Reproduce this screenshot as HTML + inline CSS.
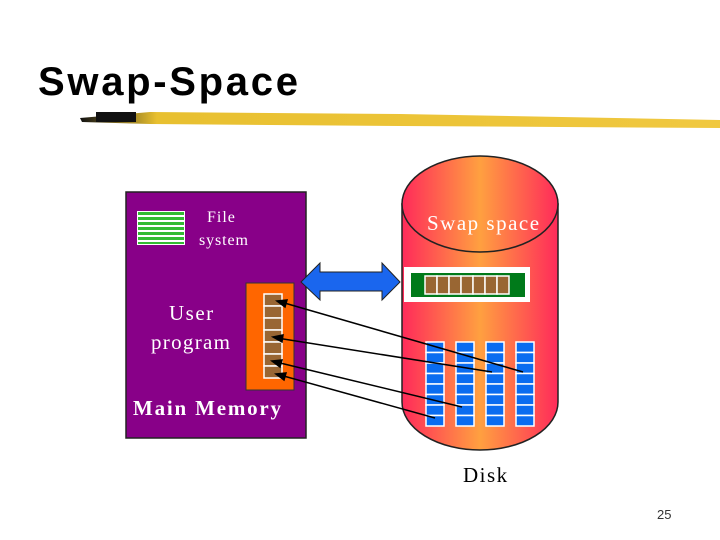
<!DOCTYPE html>
<html><head><meta charset="utf-8"><style>
body{margin:0;width:720px;height:540px;background:#fff;overflow:hidden;position:relative;font-family:"Liberation Serif",serif}
.t{position:absolute;white-space:nowrap}
</style></head><body>
<div class="t" style="left:38px;top:60px;font:bold 40px 'Liberation Sans',sans-serif;letter-spacing:2.7px;color:#000">Swap-Space</div>
<svg width="720" height="540" style="position:absolute;left:0;top:0">
<defs>
<linearGradient id="cg" x1="0" x2="1" y1="0" y2="0">
<stop offset="0" stop-color="#ff2a5a"/><stop offset="0.5" stop-color="#ffa040"/><stop offset="1" stop-color="#ff2a5a"/>
</linearGradient>
<linearGradient id="yg" x1="0" x2="1"><stop offset="0" stop-color="#111"/><stop offset="0.12" stop-color="#e8c030"/><stop offset="1" stop-color="#f0c840"/></linearGradient>
</defs>
<path d="M80 118 L150 112 L400 114 L720 120 L720 128 L400 126 L150 124 L82 122 Z" fill="url(#yg)"/>
<rect x="96" y="112" width="40" height="10" fill="#111"/>
<rect x="126" y="192" width="180" height="246" fill="#880088" stroke="#222" stroke-width="1.5"/>
<rect x="137" y="211" width="48" height="34" fill="#fff"/>
<g fill="#33bb33"><rect x="138" y="212" width="46" height="3"/><rect x="138" y="217" width="46" height="3"/><rect x="138" y="222" width="46" height="3"/><rect x="138" y="227" width="46" height="3"/><rect x="138" y="232" width="46" height="3"/><rect x="138" y="237" width="46" height="3"/><rect x="138" y="242" width="46" height="2"/></g>
<rect x="246" y="283" width="48" height="107" fill="#ff6600" stroke="#333"/>
<g fill="#996633" stroke="#fff" stroke-width="1.5">
<rect x="264" y="294" width="18" height="12"/><rect x="264" y="306" width="18" height="12"/><rect x="264" y="318" width="18" height="12"/><rect x="264" y="330" width="18" height="12"/><rect x="264" y="342" width="18" height="12"/><rect x="264" y="354" width="18" height="12"/><rect x="264" y="366" width="18" height="12"/>
</g>
<path d="M402 204 L402 402 A78 48 0 0 0 558 402 L558 204 Z" fill="url(#cg)" stroke="#222" stroke-width="1.5"/>
<ellipse cx="480" cy="204" rx="78" ry="48" fill="url(#cg)" stroke="#222" stroke-width="1.5"/>
<rect x="404" y="267" width="126" height="35" fill="#fff"/>
<rect x="411" y="273" width="114" height="24" fill="#007a1a"/>
<g fill="#996633" stroke="#fff" stroke-width="1.5">
<rect x="425" y="276" width="12" height="18"/><rect x="437" y="276" width="12" height="18"/><rect x="449" y="276" width="12" height="18"/><rect x="461" y="276" width="12" height="18"/><rect x="473" y="276" width="12" height="18"/><rect x="485" y="276" width="12" height="18"/><rect x="497" y="276" width="12" height="18"/>
</g>
<g id="col" fill="#0a6cf0" stroke="#fff" stroke-width="1.5">
<rect x="426" y="342" width="18" height="10.5"/><rect x="426" y="352.5" width="18" height="10.5"/><rect x="426" y="363" width="18" height="10.5"/><rect x="426" y="373.5" width="18" height="10.5"/><rect x="426" y="384" width="18" height="10.5"/><rect x="426" y="394.5" width="18" height="10.5"/><rect x="426" y="405" width="18" height="10.5"/><rect x="426" y="415.5" width="18" height="10.5"/>
</g>
<use href="#col" x="30"/><use href="#col" x="60"/><use href="#col" x="90"/>
<path d="M301 282 L320 263 L320 272 L382 272 L382 263 L400 282 L382 300 L382 291 L320 291 L320 300 Z" fill="#1a66ee" stroke="#222" stroke-width="1"/>
<g stroke="#000" stroke-width="1.5" fill="#000">
<line x1="523" y1="372" x2="281" y2="302"/><path d="M277 301 L287 300 L285 307 Z"/>
<line x1="492" y1="372" x2="277" y2="338"/><path d="M273 337 L283 335 L282 342 Z"/>
<line x1="462" y1="407" x2="276" y2="362"/><path d="M272 361 L282 360 L280 367 Z"/>
<line x1="435" y1="418" x2="280" y2="375"/><path d="M276 374 L286 373 L284 380 Z"/>
</g>
</svg>
<div class="t" style="left:207px;top:209px;font-size:16px;letter-spacing:1px;color:#fff">File</div>
<div class="t" style="left:199px;top:232px;font-size:16px;letter-spacing:0.9px;color:#fff">system</div>
<div class="t" style="left:169px;top:301px;font-size:21px;letter-spacing:1.5px;color:#fff">User</div>
<div class="t" style="left:151px;top:330px;font-size:21px;letter-spacing:1.3px;color:#fff">program</div>
<div class="t" style="left:133px;top:396px;font-size:21px;font-weight:bold;letter-spacing:1.8px;color:#fff">Main Memory</div>
<div class="t" style="left:427px;top:211px;font-size:21px;letter-spacing:1.5px;color:#fff">Swap space</div>
<div class="t" style="left:463px;top:463px;font-size:21px;letter-spacing:1.5px;color:#000">Disk</div>
<div class="t" style="left:657px;top:507px;font:13px 'Liberation Sans',sans-serif;color:#333">25</div>
</body></html>
